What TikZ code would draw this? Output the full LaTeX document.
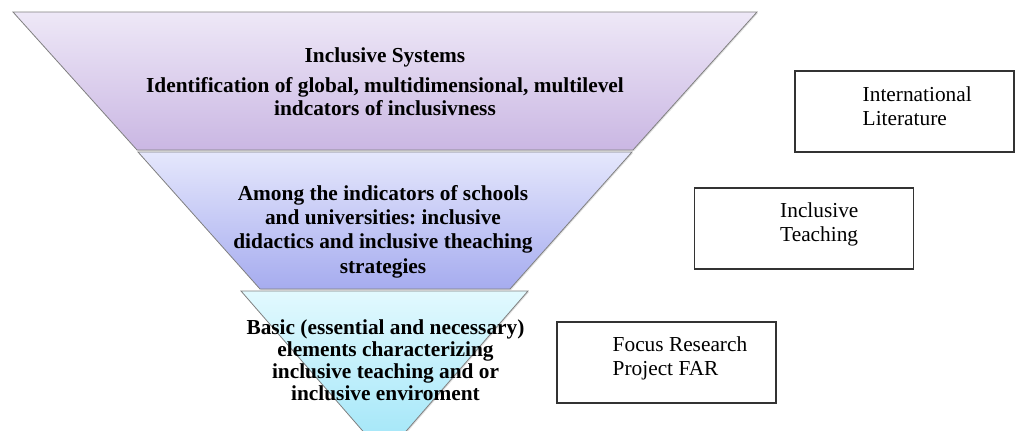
\documentclass[tikz,border=0pt]{standalone}
\usepackage{fontspec}
\setmainfont{Liberation Serif}
\usetikzlibrary{calc,positioning,shadows}
\frenchspacing

\definecolor{sysTop}{RGB}{238,232,247}
\definecolor{sysBot}{RGB}{202,183,227}
\definecolor{schTop}{RGB}{229,231,252}
\definecolor{schBot}{RGB}{166,172,239}
\definecolor{basTop}{RGB}{226,249,254}
\definecolor{basBot}{RGB}{158,229,248}

\begin{document}
\begin{tikzpicture}[x=0.75pt,y=-0.75pt,
  band/.style={draw=black!50, line width=0.6pt, drop shadow={opacity=0.25, shadow xshift=0.8pt, shadow yshift=-0.8pt}},
  bandtext/.style={align=center, inner sep=0pt, font=\bfseries\fontsize{16}{17.25}\selectfont},
  srcbox/.style={draw=black!80, line width=0.8pt, minimum width=164.25pt, minimum height=60.75pt, inner sep=0pt},
  srctext/.style={align=left, anchor=west, inner sep=0pt, font=\fontsize{16}{18}\selectfont}]
  \clip (0,0) rectangle (1015,430);

  % funnel
  \path[band, top color=sysTop, bottom color=sysBot] (13,12) -- (757,12) -- (633,150) -- (137,150) -- cycle;
  \path[band, top color=schTop, bottom color=schBot] (138,152) -- (632,152) -- (510,289) -- (260,289) -- cycle;
  \path[band, top color=basTop, bottom color=basBot] (241,291) -- (528,291) -- (384.5,456) -- cycle;

  \node[bandtext] (sys) at (385,81.5) {Inclusive Systems\\[5pt]Identification of global, multidimensional, multilevel\\indcators of inclusivness};
  \node[bandtext, font=\bfseries\fontsize{16}{18.2}\selectfont] (among) at (383,231.5) {Among the indicators of schools\\and universities: inclusive\\didactics and inclusive theaching\\strategies};
  \node[bandtext, font=\bfseries\fontsize{16}{16.5}\selectfont] (basic) at (385.5,360) {Basic (essential and necessary)\\elements characterizing\\inclusive teaching and or\\inclusive enviroment};

  % boxes on the right
  \node[srcbox] (litbox) at (904.5,111.5) {};
  \node[srctext] (lit) at ($(litbox.west)+(68,-5)$) {International\\Literature};

  \node[srcbox] (teachbox) at (804,228.5) {};
  \node[srctext] (teach) at ($(teachbox.west)+(86,-4)$) {Inclusive\\Teaching};

  \node[srcbox] (farbox) at (666.5,362.5) {};
  \node[srctext] (far) at ($(farbox.west)+(56,-4)$) {Focus Research\\Project FAR};

\end{tikzpicture}
\end{document}
